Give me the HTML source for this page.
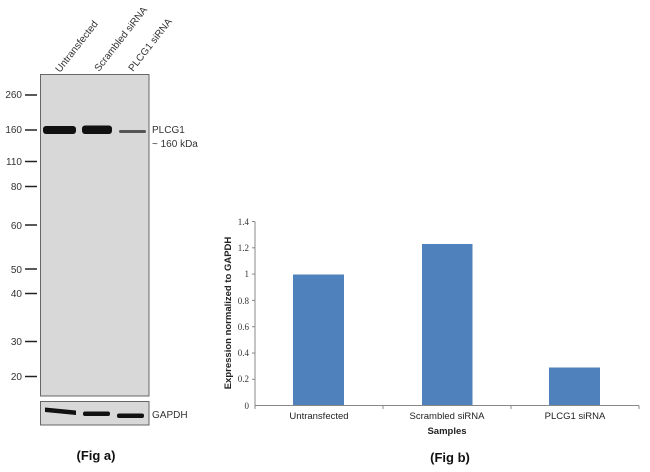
<!DOCTYPE html>
<html><head><style>
body{margin:0;background:#fff;}
svg{display:block;}
</style></head><body>
<svg width="650" height="472" viewBox="0 0 650 472" xmlns="http://www.w3.org/2000/svg" font-family="Liberation Sans, sans-serif">
<rect width="650" height="472" fill="#fff"/>
<!-- Fig a -->
<rect x="40.5" y="74.5" width="108.5" height="321.5" fill="#d8d8d8" stroke="#666" stroke-width="1"/>
<rect x="40.5" y="401.5" width="108.5" height="23.5" fill="#d8d8d8" stroke="#666" stroke-width="1"/>
<g fill="#333" font-size="10" text-anchor="end">
<text x="22" y="98">260</text><text x="22" y="133">160</text><text x="22" y="165">110</text>
<text x="22" y="190">80</text><text x="22" y="229">60</text><text x="22" y="273">50</text>
<text x="22" y="297">40</text><text x="22" y="345">30</text><text x="22" y="380">20</text>
</g>
<g stroke="#222" stroke-width="1.5">
<line x1="25" y1="95" x2="37" y2="95"/><line x1="25" y1="130" x2="37" y2="130"/>
<line x1="25" y1="161.5" x2="37" y2="161.5"/><line x1="25" y1="186.5" x2="37" y2="186.5"/>
<line x1="25" y1="225" x2="37" y2="225"/><line x1="25" y1="269" x2="37" y2="269"/>
<line x1="25" y1="293.5" x2="37" y2="293.5"/><line x1="25" y1="341.5" x2="37" y2="341.5"/>
<line x1="25" y1="376.5" x2="37" y2="376.5"/>
</g>
<!-- bands -->
<rect x="43" y="126" width="33" height="8" rx="3" fill="#111"/>
<rect x="82" y="125.5" width="30" height="8.5" rx="3" fill="#111"/>
<rect x="119" y="130" width="27" height="3" rx="1.5" fill="#555"/>
<polygon points="45,407.5 76,410.5 76,415 45,412" fill="#111"/>
<rect x="83" y="411.5" width="27" height="4.5" rx="2" fill="#111"/>
<rect x="117" y="413.5" width="27" height="4.5" rx="2" fill="#111"/>
<g fill="#333" font-size="10">
<text transform="translate(60,73) rotate(-52)">Untransfected</text>
<text transform="translate(99,72) rotate(-52)">Scrambled siRNA</text>
<text transform="translate(133,72) rotate(-52)">PLCG1 siRNA</text>
<text x="152" y="133">PLCG1</text>
<text x="152" y="147">~ 160 kDa</text>
<text x="152" y="418">GAPDH</text>
</g>
<text x="96" y="460" font-size="13" font-weight="bold" text-anchor="middle" fill="#111">(Fig a)</text>
<!-- Fig b -->
<rect x="293" y="274.5" width="51" height="131.5" fill="#4f81bd"/>
<rect x="422" y="244" width="50.5" height="162" fill="#4f81bd"/>
<rect x="549" y="367.5" width="51" height="38.5" fill="#4f81bd"/>
<g stroke="#888" stroke-width="1" fill="none">
<line x1="255" y1="221.5" x2="255" y2="406"/>
<line x1="255" y1="405.5" x2="639" y2="405.5"/>
<line x1="252" y1="221.5" x2="255" y2="221.5"/><line x1="252" y1="247.8" x2="255" y2="247.8"/>
<line x1="252" y1="274.1" x2="255" y2="274.1"/><line x1="252" y1="300.4" x2="255" y2="300.4"/>
<line x1="252" y1="326.7" x2="255" y2="326.7"/><line x1="252" y1="353" x2="255" y2="353"/>
<line x1="252" y1="379.3" x2="255" y2="379.3"/>
<line x1="255" y1="405.5" x2="255" y2="409"/><line x1="383" y1="405.5" x2="383" y2="409"/>
<line x1="511" y1="405.5" x2="511" y2="409"/><line x1="639" y1="405.5" x2="639" y2="409"/>
</g>
<g font-family="Liberation Serif, serif" font-size="9" fill="#333" text-anchor="end">
<text x="249" y="225">1.4</text><text x="249" y="251">1.2</text><text x="249" y="277">1</text>
<text x="249" y="304">0.8</text><text x="249" y="330">0.6</text><text x="249" y="356">0.4</text>
<text x="249" y="382">0.2</text><text x="249" y="409">0</text>
</g>
<g font-size="9.5" fill="#222" text-anchor="middle">
<text x="319" y="419">Untransfected</text>
<text x="447" y="419">Scrambled siRNA</text>
<text x="575" y="419">PLCG1 siRNA</text>
<text x="447" y="434" font-weight="bold">Samples</text>
<text transform="translate(231,313) rotate(-90)" font-weight="bold">Expression  normalized to GAPDH</text>
</g>
<text x="450" y="462" font-size="13" font-weight="bold" text-anchor="middle" fill="#111">(Fig b)</text>
</svg>
</body></html>
